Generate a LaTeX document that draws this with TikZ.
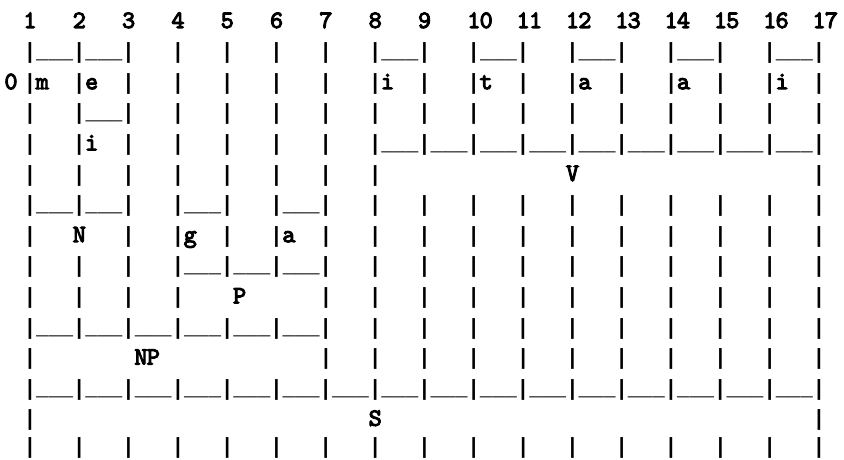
\documentclass[tikz,border=0pt]{standalone}
\usepackage{fontspec}
\newfontfamily\asciirule[FakeStretch=0.93]{Liberation Mono}
\newfontfamily\asciilet[FakeBold=4]{lmmono10-regular.otf}
\newlength\cw \setlength\cw{12.33pt}
\newcommand\pipesize{\asciirule\bfseries\fontsize{22}{22}\selectfont}
\newcommand\letsize{\asciilet\fontsize{25}{25}\selectfont}
\makeatletter
\def\asciirow#1{\asc@row#1\relax}
\def\asc@row#1{\ifx#1\relax\else\makebox[\cw][c]{\asc@map#1}\expandafter\asc@row\fi}
\def\asc@map#1{\if#1-{\pipesize\symbol{95}}\else\if#1.\else\if#1|{\pipesize|}\else{\letsize#1}\fi\fi\fi}
\makeatother
\begin{document}
\begin{tikzpicture}[x=1pt,y=1pt,
  every node/.style={inner sep=0pt,outer sep=0pt},
  asciiline/.style={anchor=base west}]
\useasboundingbox (0,0) rectangle (844,459);
\fill[white] (0,0) rectangle (844,459);
\node[asciiline] (r0)  at (11.5,431)   {\asciirow{.1...2...3...4...5...6...7...8...9...10..11..12..13..14..15..16..17}};
\node[asciiline] (r1)  at (11.5,400.4) {\asciirow{.|---|---|...|...|...|...|...|---|...|---|...|---|...|---|...|---|}};
\node[asciiline] (r2)  at (11.5,369.8) {\asciirow{.|m..|e..|...|...|...|...|...|i..|...|t..|...|a..|...|a..|...|i..|}};
\node[asciiline,anchor=base] (zero) at (11,369.8) {\letsize 0};
\node[asciiline] (r3)  at (11.5,339.2) {\asciirow{.|...|---|...|...|...|...|...|...|...|...|...|...|...|...|...|...|}};
\node[asciiline] (r4)  at (11.5,308.6) {\asciirow{.|...|i..|...|...|...|...|...|---|---|---|---|---|---|---|---|---|}};
\node[asciiline] (r5)  at (11.5,278)   {\asciirow{.|...|...|...|...|...|...|...|...............V...................|}};
\node[asciiline] (r6)  at (11.5,247.4) {\asciirow{.|---|---|...|---|...|---|...|...|...|...|...|...|...|...|...|...|}};
\node[asciiline] (r7)  at (11.5,216.8) {\asciirow{.|...N...|...|g..|...|a..|...|...|...|...|...|...|...|...|...|...|}};
\node[asciiline] (r8)  at (11.5,186.2) {\asciirow{.|...|...|...|---|---|---|...|...|...|...|...|...|...|...|...|...|}};
\node[asciiline] (r9)  at (11.5,155.6) {\asciirow{.|...|...|...|....P......|...|...|...|...|...|...|...|...|...|...|}};
\node[asciiline] (r10) at (11.5,125)   {\asciirow{.|---|---|---|---|---|---|...|...|...|...|...|...|...|...|...|...|}};
\node[asciiline] (r11) at (11.5,94.4)  {\asciirow{.|........NP.............|...|...|...|...|...|...|...|...|...|...|}};
\node[asciiline] (r12) at (11.5,63.8)  {\asciirow{.|---|---|---|---|---|---|---|---|---|---|---|---|---|---|---|---|}};
\node[asciiline] (r13) at (11.5,33.2)  {\asciirow{.|...........................S...................................|}};
\node[asciiline] (r14) at (11.5,5.5)   {\asciirow{.|...|...|...|...|...|...|...|...|...|...|...|...|...|...|...|...|}};
\end{tikzpicture}
\end{document}
